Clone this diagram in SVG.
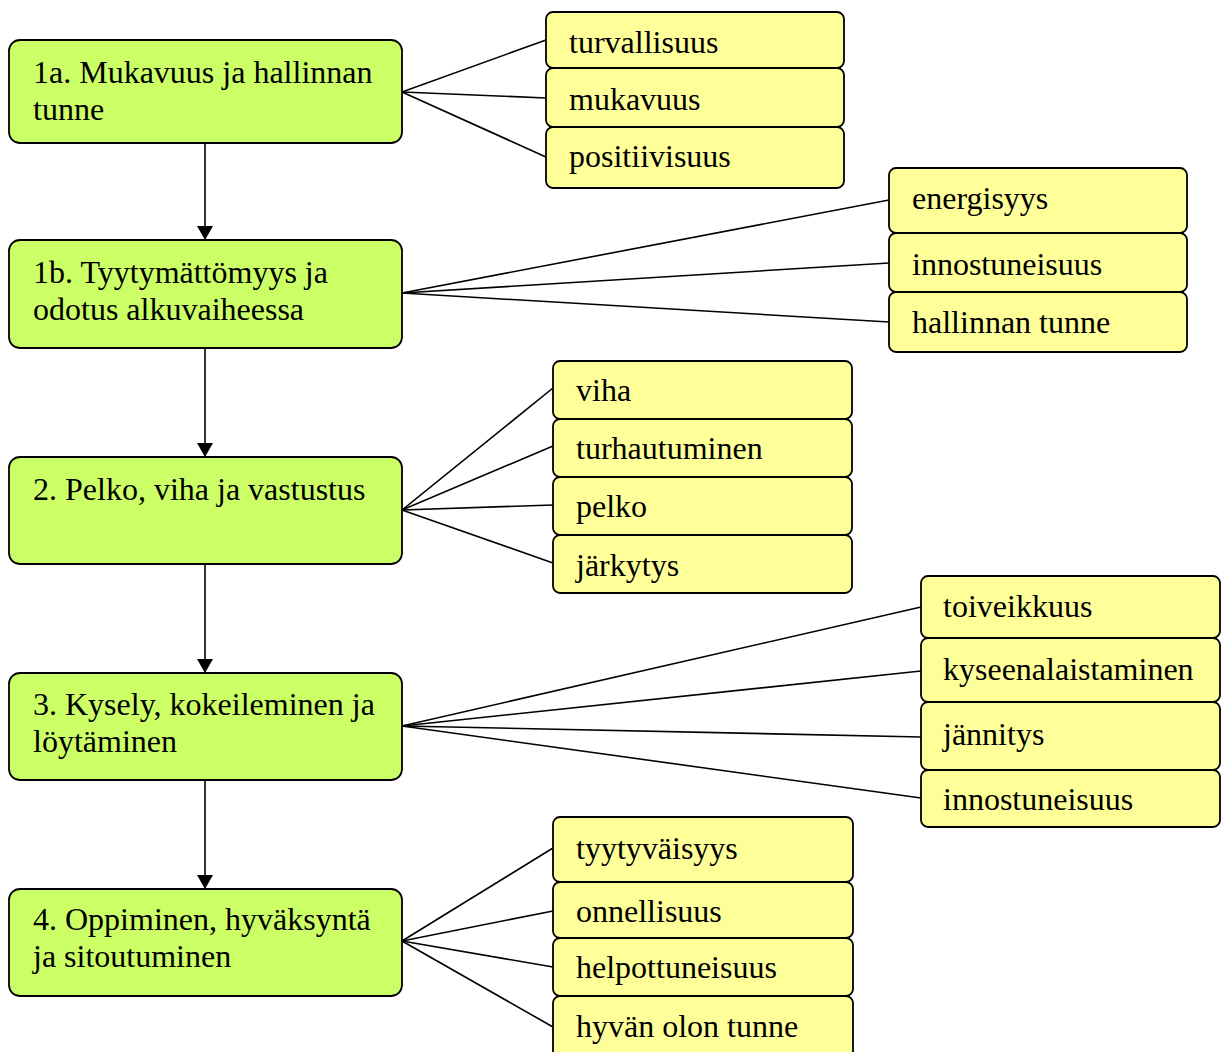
<svg xmlns="http://www.w3.org/2000/svg" width="1227" height="1052" viewBox="0 0 1227 1052">
<defs>
<style>
.g{fill:#CCFF66;stroke:#000;stroke-width:1.8}
.y{fill:#FFFF99;stroke:#000;stroke-width:1.8}
text{font-family:"Liberation Serif","Times New Roman",serif;font-size:32px;fill:#000}
.c line{stroke:#000;stroke-width:1.6}
</style>
<marker id="ah" markerUnits="userSpaceOnUse" markerWidth="14" markerHeight="16" refX="14" refY="8" orient="auto" viewBox="0 0 14 16">
<path d="M0,0 L14,8 L0,16 Z" fill="#000"/>
</marker>
</defs>
<rect width="1227" height="1052" fill="#fff"/>
<g id="connectors" class="c">
<line x1="205" y1="143" x2="205" y2="240" marker-end="url(#ah)"/>
<line x1="205" y1="348" x2="205" y2="457" marker-end="url(#ah)"/>
<line x1="205" y1="564" x2="205" y2="673" marker-end="url(#ah)"/>
<line x1="205" y1="780" x2="205" y2="889" marker-end="url(#ah)"/>
<line x1="402" y1="92" x2="546" y2="40"/>
<line x1="402" y1="92" x2="546" y2="98"/>
<line x1="402" y1="92" x2="546" y2="157"/>
<line x1="402" y1="293" x2="889" y2="200"/>
<line x1="402" y1="293" x2="889" y2="263"/>
<line x1="402" y1="293" x2="889" y2="322"/>
<line x1="402" y1="510" x2="553" y2="388"/>
<line x1="402" y1="510" x2="553" y2="446"/>
<line x1="402" y1="510" x2="553" y2="505"/>
<line x1="402" y1="510" x2="553" y2="563"/>
<line x1="402" y1="726" x2="921" y2="607"/>
<line x1="402" y1="726" x2="921" y2="671"/>
<line x1="402" y1="726" x2="921" y2="737"/>
<line x1="402" y1="726" x2="921" y2="798"/>
<line x1="402" y1="941" x2="553" y2="848"/>
<line x1="402" y1="941" x2="553" y2="911"/>
<line x1="402" y1="941" x2="553" y2="967"/>
<line x1="402" y1="941" x2="553" y2="1027"/>
</g>
<g id="n1a"><rect class="g" x="9" y="40" width="393" height="103" rx="11"/><text x="33" y="83">1a. Mukavuus ja hallinnan</text><text x="33" y="120">tunne</text></g>
<g id="n1b"><rect class="g" x="9" y="240" width="393" height="108" rx="11"/><text x="33" y="283">1b. Tyytymättömyys ja</text><text x="33" y="320">odotus alkuvaiheessa</text></g>
<g id="n2"><rect class="g" x="9" y="457" width="393" height="107" rx="11"/><text x="33" y="500">2. Pelko, viha ja vastustus</text></g>
<g id="n3"><rect class="g" x="9" y="673" width="393" height="107" rx="11"/><text x="33" y="715">3. Kysely, kokeileminen ja</text><text x="33" y="752">löytäminen</text></g>
<g id="n4"><rect class="g" x="9" y="889" width="393" height="107" rx="11"/><text x="33" y="930">4. Oppiminen, hyväksyntä</text><text x="33" y="967">ja sitoutuminen</text></g>

<g id="e1a1"><rect class="y" x="546" y="12" width="298" height="56" rx="7"/><text x="569" y="53">turvallisuus</text></g>
<g id="e1a2"><rect class="y" x="546" y="68" width="298" height="59" rx="7"/><text x="569" y="110">mukavuus</text></g>
<g id="e1a3"><rect class="y" x="546" y="127" width="298" height="61" rx="7"/><text x="569" y="167">positiivisuus</text></g>

<g id="e1b1"><rect class="y" x="889" y="168" width="298" height="65" rx="7"/><text x="912" y="209">energisyys</text></g>
<g id="e1b2"><rect class="y" x="889" y="233" width="298" height="59" rx="7"/><text x="912" y="275">innostuneisuus</text></g>
<g id="e1b3"><rect class="y" x="889" y="292" width="298" height="60" rx="7"/><text x="912" y="333">hallinnan tunne</text></g>

<g id="e21"><rect class="y" x="553" y="361" width="299" height="58" rx="7"/><text x="576" y="401">viha</text></g>
<g id="e22"><rect class="y" x="553" y="419" width="299" height="58" rx="7"/><text x="576" y="459">turhautuminen</text></g>
<g id="e23"><rect class="y" x="553" y="477" width="299" height="58" rx="7"/><text x="576" y="517">pelko</text></g>
<g id="e24"><rect class="y" x="553" y="535" width="299" height="58" rx="7"/><text x="576" y="576">järkytys</text></g>

<g id="e31"><rect class="y" x="921" y="576" width="299" height="62" rx="7"/><text x="943" y="617">toiveikkuus</text></g>
<g id="e32"><rect class="y" x="921" y="638" width="299" height="64" rx="7"/><text x="943" y="680">kyseenalaistaminen</text></g>
<g id="e33"><rect class="y" x="921" y="702" width="299" height="68" rx="7"/><text x="943" y="745">jännitys</text></g>
<g id="e34"><rect class="y" x="921" y="770" width="299" height="57" rx="7"/><text x="943" y="810">innostuneisuus</text></g>

<g id="e41"><rect class="y" x="553" y="817" width="300" height="65" rx="7"/><text x="576" y="859">tyytyväisyys</text></g>
<g id="e42"><rect class="y" x="553" y="882" width="300" height="56" rx="7"/><text x="576" y="922">onnellisuus</text></g>
<g id="e43"><rect class="y" x="553" y="938" width="300" height="58" rx="7"/><text x="576" y="978">helpottuneisuus</text></g>
<g id="e44"><rect class="y" x="553" y="996" width="300" height="70" rx="7"/><text x="576" y="1037">hyvän olon tunne</text></g>
</svg>
